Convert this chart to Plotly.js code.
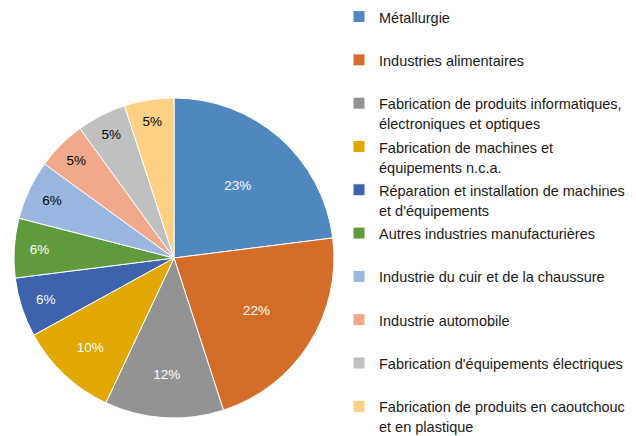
<!DOCTYPE html>
<html>
<head>
<meta charset="utf-8">
<script src="https://cdn.plot.ly/plotly-3.0.1.min.js"></script>
<style>html,body{margin:0;padding:0;background:#fff;}#chart{width:636px;height:436px;}</style>
</head>
<body>
<div id="chart"></div>
<script>
// Data
const categories = [
  "Métallurgie",
  "Industries alimentaires",
  "Fabrication de produits informatiques,\nélectroniques et optiques",
  "Fabrication de machines et\néquipements n.c.a.",
  "Réparation et installation de machines\net d'équipements",
  "Autres industries manufacturières",
  "Industrie du cuir et de la chaussure",
  "Industrie automobile",
  "Fabrication d'équipements électriques",
  "Fabrication de produits en caoutchouc\net en plastique"
];
const shares = [23, 22, 12, 10, 6, 6, 6, 5, 5, 5];
const sliceColors = ["#4F88BE", "#D36D29", "#939393", "#E0A800", "#3D63AD",
                     "#5F9A3D", "#9AB8DF", "#F0A98A", "#C0C0C0", "#FFD184"];
const labelColors = ["#ffffff", "#ffffff", "#ffffff", "#ffffff", "#ffffff",
                     "#ffffff", "#000000", "#000000", "#000000", "#000000"];

// legend labels: each entry is made two lines tall so entries are evenly spaced
const legendLabels = categories.map(function (c) {
  const lines = c.split("\n");
  const parts = lines.map(function (l) { return '<span style="font-size:14.5px">' + l + '</span>'; });
  if (parts.length < 2) parts.push(" ");
  return parts.join("<br>");
});

const trace = {
  type: "pie",
  labels: legendLabels,
  values: shares,
  sort: false,
  direction: "clockwise",
  rotation: 0,
  marker: { colors: sliceColors, line: { color: "#ffffff", width: 1 } },
  textinfo: "percent",
  textposition: "inside",
  insidetextorientation: "horizontal",
  textfont: { family: "Liberation Sans, Arial, sans-serif", size: 13.5, color: labelColors },
  hoverinfo: "label+percent",
  domain: { x: [14 / 636, 334 / 636], y: [18 / 436, 338 / 436] }
};

const layout = {
  width: 636,
  height: 436,
  margin: { l: 0, r: 0, t: 0, b: 0 },
  paper_bgcolor: "#ffffff",
  showlegend: true,
  legend: {
    x: 339 / 636,
    xanchor: "left",
    y: 1 - 2 / 436,
    yanchor: "top",
    valign: "top",
    font: { family: "Liberation Sans, Arial, sans-serif", size: 15.5, color: "#1a1a1a" },
    bgcolor: "rgba(0,0,0,0)",
    borderwidth: 0
  }
};

Plotly.newPlot("chart", [trace], layout, { displayModeBar: false, staticPlot: true });
</script>
</body>
</html>
